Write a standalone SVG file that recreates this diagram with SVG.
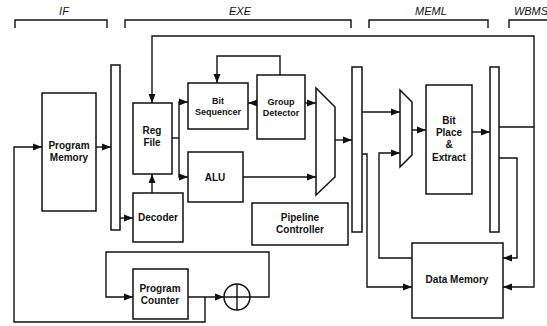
<svg xmlns="http://www.w3.org/2000/svg" width="547" height="326" viewBox="0 0 547 326">
<defs>
<marker id="ah" markerUnits="userSpaceOnUse" markerWidth="10" markerHeight="8" refX="9" refY="4" orient="auto">
<path d="M0,0.5 L9,4 L0,7.5 Z" fill="#111"/>
</marker>
<style>
.box{fill:#fff;stroke:#111;stroke-width:1.5}
.ln{fill:none;stroke:#111;stroke-width:1.4}
.ar{fill:none;stroke:#111;stroke-width:1.4;marker-end:url(#ah)}
.t{font-family:"Liberation Sans",Arial,sans-serif;font-weight:bold;font-size:10px;text-anchor:middle;fill:#111}
.s{font-size:9px}
.stg{font-family:"Liberation Sans",Arial,sans-serif;font-style:italic;font-size:11px;text-anchor:middle;fill:#111}
</style>
</defs>
<rect width="547" height="326" fill="#fff"/>

<g id="stages">
<text class="stg" x="64" y="15">IF</text>
<text class="stg" x="240" y="15">EXE</text>
<text class="stg" x="431" y="15">MEML</text>
<text class="stg" x="531" y="15">WBMS</text>
<path class="ln" d="M15,28 V20 H107 V28"/>
<path class="ln" d="M125,28 V20 H351 V28"/>
<path class="ln" d="M369,28 V20 H488 V28"/>
<path class="ln" d="M509,28 V20 H547"/>
</g>

<g id="connectors">
<path class="ar" d="M96,147 H111"/>
<path class="ar" d="M205,297 V322 H14 V147 H42"/>
<path class="ar" d="M188,297 H224"/>
<path class="ar" d="M250,297 H269 V252 H106 V297 H133"/>
<path class="ar" d="M120,218 H133"/>
<path class="ar" d="M152,193 V174"/>
<path class="ar" d="M499,127 H534 V287 H503"/>
<path class="ar" d="M534,127 V36 H152 V103"/>
<path class="ln" d="M172,138 H179"/>
<path class="ar" d="M179,138 V102 H188"/>
<path class="ar" d="M179,138 V177 H188"/>
<path class="ar" d="M257,103 H248"/>
<path class="ar" d="M280,75 V56 H217 V83"/>
<path class="ar" d="M305,103 H316"/>
<path class="ar" d="M243,177 H316"/>
<path class="ar" d="M335,140 H352"/>
<path class="ar" d="M362,112 H400"/>
<path class="ar" d="M362,154 H367 V287 H412"/>
<path class="ar" d="M412,258 H379 V153 H400"/>
<path class="ar" d="M412,130 H426"/>
<path class="ar" d="M472,132 H490"/>
<path class="ar" d="M499,158 H517 V258 H503"/>
</g>

<g id="program-memory">
<rect class="box" x="42" y="93" width="54" height="118"/>
<text class="t" x="69" y="149">Program</text>
<text class="t" x="69" y="161">Memory</text>
</g>
<g id="pipe-reg-1"><rect class="box" x="111" y="65" width="9" height="165"/></g>
<g id="reg-file">
<rect class="box" x="133" y="103" width="39" height="71"/>
<text class="t" x="152" y="134">Reg</text>
<text class="t" x="152" y="146">File</text>
</g>
<g id="decoder">
<rect class="box" x="133" y="193" width="50" height="49"/>
<text class="t" x="158" y="221">Decoder</text>
</g>
<g id="bit-sequencer">
<rect class="box" x="188" y="83" width="60" height="46"/>
<text class="t s" x="218" y="104">Bit</text>
<text class="t s" x="218" y="115">Sequencer</text>
</g>
<g id="group-detector">
<rect class="box" x="257" y="75" width="48" height="64"/>
<text class="t s" x="281" y="105">Group</text>
<text class="t s" x="281" y="116">Detector</text>
</g>
<g id="alu">
<rect class="box" x="188" y="152" width="55" height="50"/>
<text class="t" x="215" y="181">ALU</text>
</g>
<g id="mux-1"><polygon class="box" points="316,88 335,107 335,177 316,195"/></g>
<g id="pipeline-controller">
<rect class="box" x="252" y="203" width="96" height="42"/>
<text class="t" x="300" y="221">Pipeline</text>
<text class="t" x="300" y="233">Controller</text>
</g>
<g id="pipe-reg-2"><rect class="box" x="352" y="67" width="10" height="165"/></g>
<g id="mux-2"><polygon class="box" points="400,90 412,102 412,155 400,167"/></g>
<g id="bit-place-extract">
<rect class="box" x="426" y="85" width="46" height="109"/>
<text class="t" x="449" y="124">Bit</text>
<text class="t" x="449" y="136">Place</text>
<text class="t" x="449" y="148">&amp;</text>
<text class="t" x="449" y="161">Extract</text>
</g>
<g id="pipe-reg-3"><rect class="box" x="490" y="67" width="9" height="165"/></g>
<g id="data-memory">
<rect class="box" x="412" y="243" width="91" height="75"/>
<text class="t" x="457" y="283">Data Memory</text>
</g>
<g id="program-counter">
<rect class="box" x="133" y="269" width="55" height="50"/>
<text class="t" x="160" y="292">Program</text>
<text class="t" x="160" y="304">Counter</text>
</g>
<g id="adder">
<circle class="box" cx="237" cy="297" r="13"/>
<path class="ln" d="M224,297 H250 M237,284 V310"/>
</g>
</svg>
